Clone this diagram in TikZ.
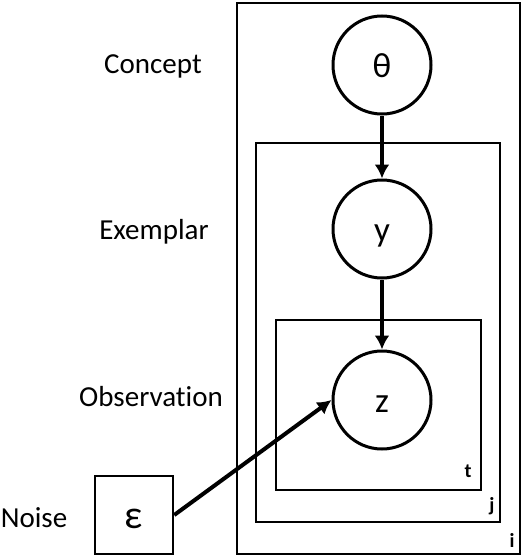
\documentclass[tikz,border=0pt]{standalone}
\usepackage{fontspec}
\setmainfont{Carlito}[Ligatures=NoCommon]
\usetikzlibrary{arrows.meta}

\begin{document}
\begin{tikzpicture}[x=1pt,y=-1pt,
    var/.style={draw,circle,line width=3pt,minimum size=98pt,inner sep=0pt,
        text height=25pt,text depth=0pt,font=\fontsize{35}{35}\selectfont},
    plate/.style={draw,line width=2pt},
    edge/.style={line width=4pt,-{Latex[length=14pt,width=15pt]}},
    lbl/.style={font=\fontsize{29}{29}\selectfont},
    idx/.style={font=\bfseries\fontsize{20}{20}\selectfont}]
    \useasboundingbox (0,0) rectangle (523,557);

    % plates i, j, t
    \draw [plate] (237,3) rectangle (520,554);
    \draw [plate] (256,143) rectangle (500,522);
    \draw [plate] (276,320) rectangle (481,490);

    \node [idx] (ii) at (512,540) {i};
    \node [idx] (jj) at (492,506) {j};
    \node [idx] (tt) at (468,471) {t};

    % variables
    \node [var,fill=white] (theta) at (382,65) {θ};
    \node [var,fill=white] (y) at (382,229) {y};
    \node [var,fill=white] (z) at (382,400) {z};
    \node [draw,line width=2.5pt,minimum width=78pt,minimum height=78pt,inner sep=0pt,
        text height=26pt,text depth=0pt,font=\fontsize{40}{40}\selectfont] (noise) at (134,515) {ε};

    % level labels
    \node [lbl] (concept) at (153,66) {Concept};
    \node [lbl] (exemplar) at (154,232) {Exemplar};
    \node [lbl] (observation) at (151,397) {Observation};
    \node [lbl] (noiselbl) at (34,518) {Noise};

    \draw [edge] (theta) -- (y);
    \draw [edge] (y) -- (z);
    \draw [edge] (noise.east) -- (z.west);

\end{tikzpicture}
\end{document}
